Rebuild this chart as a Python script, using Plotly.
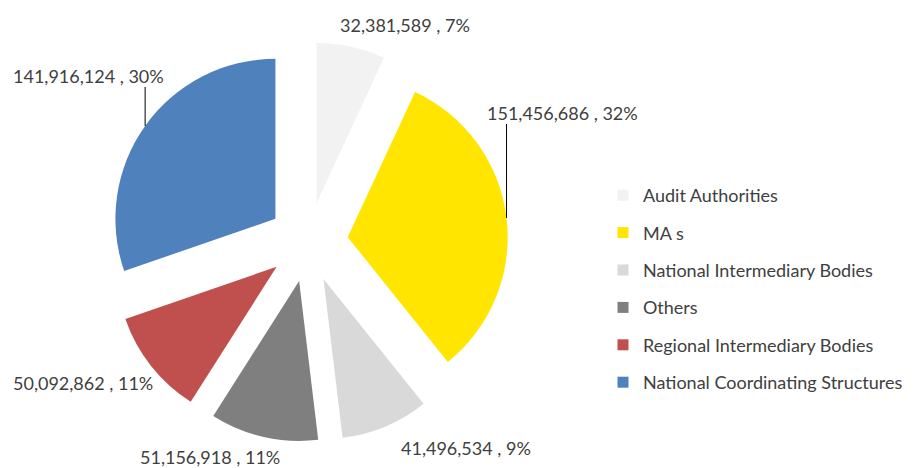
import math
import plotly.graph_objects as go

labels = ["Audit Authorities", "MA s", "National Intermediary Bodies", "Others",
          "Regional Intermediary Bodies", "National Coordinating Structures"]
values = [32381589, 151456686, 41496534, 51156918, 50092862, 141916124]
colors = ["#F2F2F2", "#FFE500", "#D9D9D9", "#7F7F7F", "#C0504D", "#4F81BD"]

W, H = 914, 468
pull = 0.25
# pie box in pixels (centre and radius of the unexploded pie)
cx, cy, r = 308, 242, 160
box = r * (1 + pull)

total = sum(values)
pct = [round(v / total * 100) for v in values]
texts = [f"{v:,} , {p}%" for v, p in zip(values, pct)]

fig = go.Figure()
fig.add_trace(go.Pie(
    labels=labels, values=values, sort=False, direction="clockwise", rotation=0,
    marker=dict(colors=colors, line=dict(width=0)),
    pull=[pull] * len(values), textinfo="none", showlegend=False,
    domain=dict(x=[(cx - box) / W, (cx + box) / W],
                y=[1 - (cy + box) / H, 1 - (cy - box) / H]),
))

# legend built from marker-only traces so the row spacing can be set
for lab, col in zip(labels, colors):
    fig.add_trace(go.Scatter(x=[None], y=[None], mode="markers", name=lab,
                             legendgroup=lab,
                             marker=dict(symbol="square", size=11, color=col)))

# label positions (pixels) for each slice
lab_pos = [(405, 25), (562, 113), (466, 448), (210, 457), (83, 383), (88, 76)]
font = dict(family="Lato", size=18, color="#404040")
for t, (x, y) in zip(texts, lab_pos):
    fig.add_annotation(x=x / W, y=1 - y / H, xref="paper", yref="paper",
                       xanchor="center", yanchor="middle",
                       text=t, showarrow=False, font=font)

# leader lines for the two big slices, from label down to the slice edge
cum = 0
mids = []
for v in values:
    mids.append((cum + v / 2) / total * 2 * math.pi)
    cum += v
for i, ytop in [(1, 124), (5, 87)]:
    a = mids[i]
    px = cx + r * (1 + pull) * math.sin(a)
    py = cy - r * (1 + pull) * math.cos(a)
    fig.add_shape(type="line", xref="paper", yref="paper",
                  x0=px / W, x1=px / W, y0=1 - ytop / H, y1=1 - py / H,
                  line=dict(color="#000000", width=1))

fig.update_layout(
    width=W, height=H,
    margin=dict(l=0, r=0, t=0, b=0),
    paper_bgcolor="white", plot_bgcolor="white",
    font=dict(family="Lato", size=18, color="#404040"),
    xaxis=dict(visible=False), yaxis=dict(visible=False),
    legend=dict(x=603 / W, xanchor="left", y=1 - 177 / H, yanchor="top",
                tracegroupgap=11, traceorder="grouped",
                font=dict(family="Lato", size=18, color="#404040")),
)

fig.write_html("out.html", config={"displayModeBar": False},
               post_script="document.body.style.margin='0px';")
